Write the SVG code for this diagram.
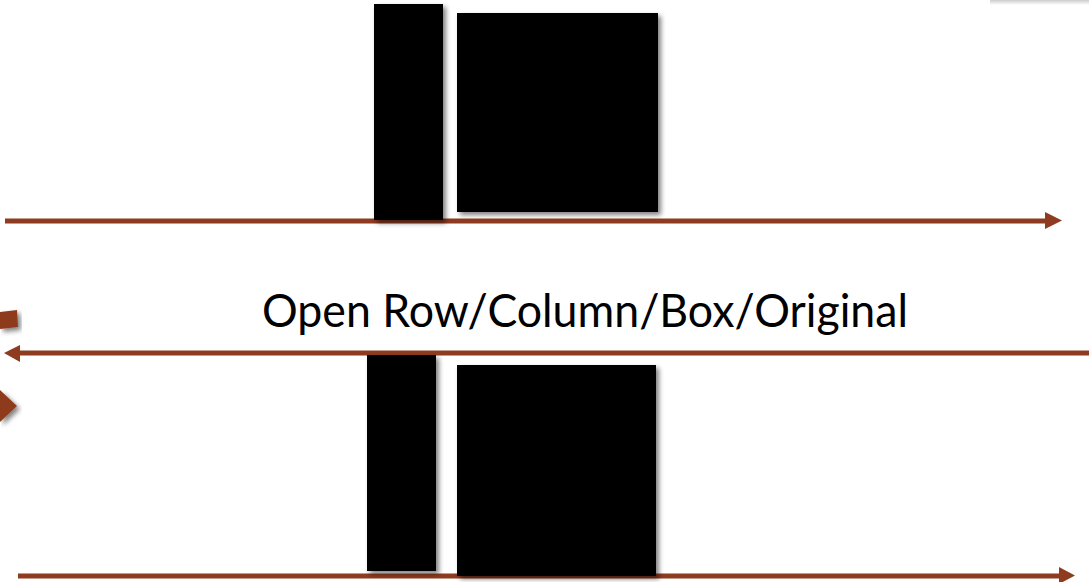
<svg xmlns="http://www.w3.org/2000/svg" width="1089" height="582" viewBox="0 0 1089 582">
<style>
.blk{fill:#000;filter:url(#sh)}
.ln{stroke:#8E3B1F;stroke-width:5;fill:none}
.lbl{font-family:Lato,"Noto Sans",sans-serif;font-size:46px;fill:#000}
</style>
<defs>
<filter id="sh" x="-10%" y="-10%" width="130%" height="130%">
<feGaussianBlur in="SourceAlpha" stdDeviation="2.5"/>
<feOffset dx="3" dy="3" result="b"/>
<feComponentTransfer><feFuncA type="linear" slope="0.5"/></feComponentTransfer>
<feMerge><feMergeNode/><feMergeNode in="SourceGraphic"/></feMerge>
</filter>
<linearGradient id="tg" x1="0" y1="0" x2="0" y2="1">
<stop offset="0" stop-color="#ccc"/><stop offset="1" stop-color="#fff"/>
</linearGradient>
</defs>
<rect width="1089" height="582" fill="#fff"/>
<rect x="990" y="0" width="99" height="5" fill="url(#tg)"/>
<g id="connectors">
<line class="ln" x1="5" y1="221" x2="1047" y2="221"/>
<polygon points="1045,212 1062,220.5 1045,229" fill="#8E3B1F"/>
<line class="ln" x1="1089" y1="353" x2="18" y2="353"/>
<polygon points="20,345 4,353 20,362" fill="#8E3B1F"/>
<line class="ln" x1="18" y1="576" x2="1061" y2="576"/>
<polygon points="1059,567 1075,575.5 1059,584" fill="#8E3B1F"/>
</g>
<g id="left-shapes" filter="url(#sh)">
<polygon points="0,312 17,310 18,327 0,329" fill="#8E3B1F"/>
<polygon points="0,390 17,406 0,422" fill="#8E3B1F"/>
</g>
<g id="top-column"><rect class="blk" x="374" y="4" width="69" height="216"/></g>
<g id="top-box"><rect class="blk" x="457" y="13" width="201" height="199"/></g>
<g id="label"><text class="lbl" x="262" y="327" textLength="646" lengthAdjust="spacingAndGlyphs">Open Row/Column/Box/Original</text></g>
<g id="bottom-column"><rect class="blk" x="367" y="355" width="69" height="216"/></g>
<g id="bottom-box"><rect class="blk" x="457" y="365" width="199" height="211"/></g>
</svg>
